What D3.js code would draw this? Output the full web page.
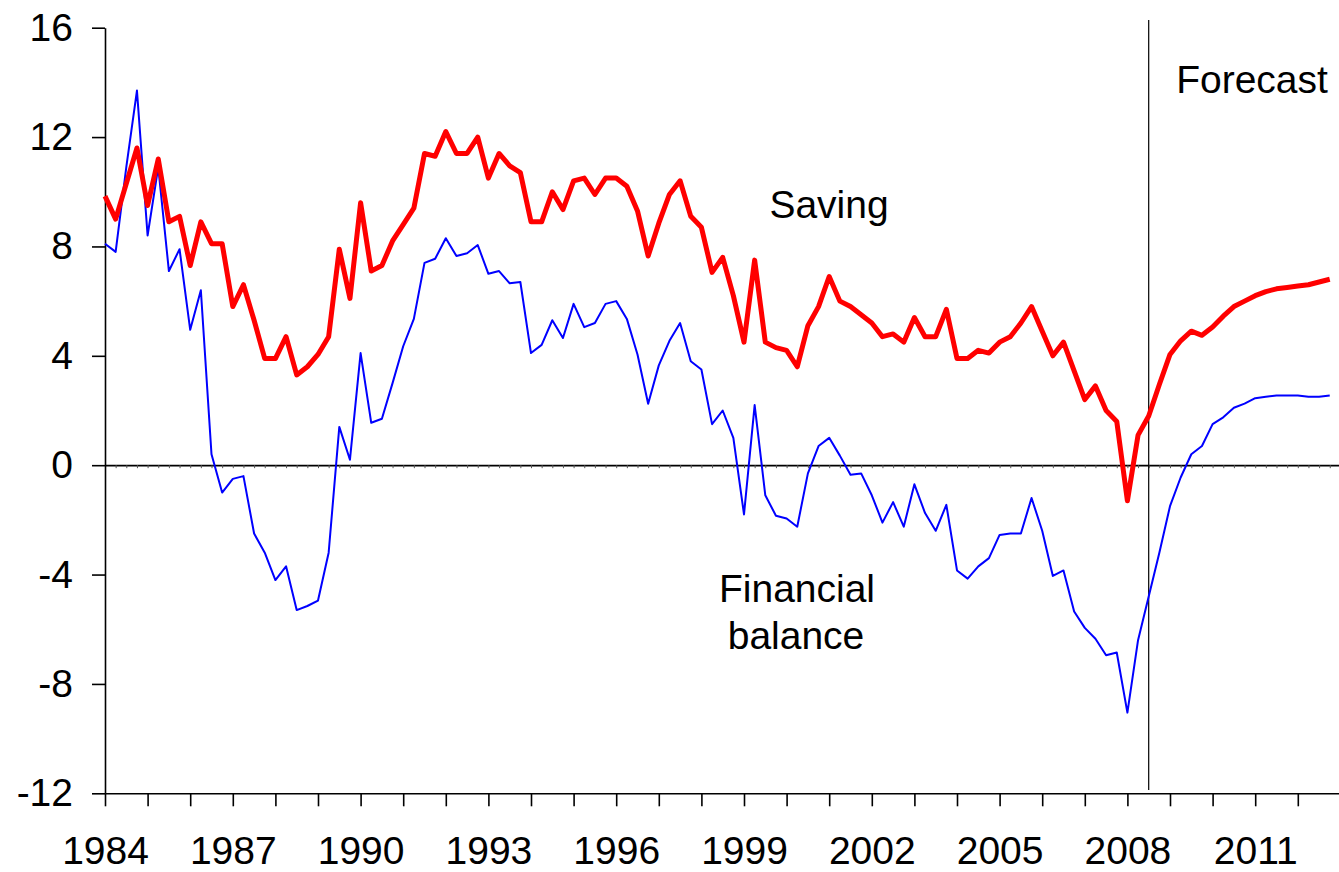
<!DOCTYPE html>
<html>
<head>
<meta charset="utf-8">
<script src="https://cdn.jsdelivr.net/npm/d3@7"></script>
<style>
  html, body { margin: 0; padding: 0; background: white; }
  svg { display: block; font-family: "Liberation Sans", Arial, sans-serif; }
</style>
</head>
<body>
<div id="svg_area"></div>
<script>
// Quarterly data, 1984Q1 .. 2012Q4
const startYear = 1984;

const saving = [
  9.84, 9.0, 10.3, 11.6, 9.5, 11.2, 8.9, 9.1, 7.3, 8.9, 8.1, 8.1,
  5.8, 6.6, 5.3, 3.9, 3.9, 4.7, 3.3, 3.6, 4.05, 4.7, 7.9, 6.1,
  9.6, 7.1, 7.3, 8.2, 8.8, 9.4, 11.4, 11.3, 12.2, 11.4, 11.4, 12.0,
  10.5, 11.4, 10.95, 10.7, 8.9, 8.9, 10.0, 9.35, 10.4, 10.5, 9.9, 10.5,
  10.5, 10.2, 9.3, 7.65, 8.85, 9.9, 10.4, 9.1, 8.7, 7.05, 7.6, 6.2,
  4.5, 7.5, 4.5, 4.3, 4.2, 3.6, 5.1, 5.8, 6.9, 6.0, 5.8, 5.5,
  5.2, 4.7, 4.8, 4.5, 5.4, 4.7, 4.7, 5.7, 3.9, 3.9, 4.2, 4.1,
  4.5, 4.7, 5.2, 5.8, 4.9, 4.0, 4.5, 3.45, 2.4, 2.9, 2.0, 1.6,
  -1.3, 1.1, 1.8, 2.95, 4.05, 4.55, 4.9, 4.75, 5.05, 5.45, 5.8, 6.0,
  6.2, 6.35, 6.45, 6.5, 6.55, 6.6, 6.7, 6.8
];

const balance = [
  8.1, 7.8, 10.9, 13.7, 8.4, 10.9, 7.1, 7.9, 4.95, 6.4, 0.4, -1.0,
  -0.5, -0.4, -2.5, -3.2, -4.2, -3.7, -5.3, -5.15, -4.95, -3.2, 1.4, 0.2,
  4.1, 1.55, 1.7, 3.0, 4.35, 5.35, 7.4, 7.55, 8.3, 7.65, 7.75, 8.05,
  7.0, 7.1, 6.65, 6.7, 4.1, 4.4, 5.3, 4.65, 5.9, 5.05, 5.2, 5.9,
  6.0, 5.35, 4.05, 2.25, 3.65, 4.55, 5.2, 3.8, 3.5, 1.5, 2.0, 1.0,
  -1.8, 2.2, -1.1, -1.85, -1.95, -2.25, -0.3, 0.7, 1.0, 0.35, -0.35, -0.3,
  -1.1, -2.1, -1.35, -2.25, -0.7, -1.75, -2.4, -1.45, -3.85, -4.15, -3.7, -3.4,
  -2.55, -2.5, -2.5, -1.2, -2.4, -4.05, -3.85, -5.35, -5.95, -6.35, -6.95, -6.85,
  -9.05, -6.4, -4.8, -3.2, -1.5, -0.45, 0.4, 0.7, 1.5, 1.75, 2.1, 2.25,
  2.45, 2.5, 2.55, 2.55, 2.55, 2.5, 2.5, 2.55
];

const quarters = saving.map((d, i) => startYear + i / 4);
const yTicks = [-12, -8, -4, 0, 4, 8, 12, 16];
const xTicks = d3.range(1984, 2013);
const xLabelYears = [1984, 1987, 1990, 1993, 1996, 1999, 2002, 2005, 2008, 2011];
const forecastStart = 2008.5;

const W = 1339, H = 872;
const fontSize = 39;

const x = d3.scaleLinear().domain([1984, 2013]).range([105, 1340.4]);
const y = d3.scaleLinear().domain([-12, 16]).range([793.3, 27.7]);

const svg = d3.select("#svg_area")
  .append("svg")
  .attr("width", W)
  .attr("height", H);

svg.append("rect")
  .attr("width", W)
  .attr("height", H)
  .style("fill", "white");

// zero line with small quarterly ticks
const zeroAxis = d3.axisBottom(x)
  .tickValues(quarters)
  .tickSize(3)
  .tickSizeOuter(0)
  .tickFormat("");
const zg = svg.append("g")
  .attr("transform", `translate(0,${y(0)})`)
  .call(zeroAxis);
zg.select(".domain").attr("stroke", "#000").attr("stroke-width", 1.8);
zg.selectAll(".tick line").attr("stroke", "#555").attr("stroke-width", 1);

// y axis (plain hyphen for negatives, as in the original)
const yAxis = d3.axisLeft(y)
  .tickValues(yTicks)
  .tickSize(13)
  .tickSizeOuter(0)
  .tickPadding(19)
  .tickFormat(d => String(d));
const yg = svg.append("g")
  .attr("transform", `translate(${x(1984)},0)`)
  .call(yAxis);

// x axis
const xAxis = d3.axisBottom(x)
  .tickValues(xTicks)
  .tickSize(13)
  .tickSizeOuter(0)
  .tickPadding(30)
  .tickFormat(d => xLabelYears.includes(d) ? String(d) : "");
const xg = svg.append("g")
  .attr("transform", `translate(0,${y(-12)})`)
  .call(xAxis);

[yg, xg].forEach(g => {
  g.select(".domain").attr("stroke", "#000").attr("stroke-width", 1.6);
  g.selectAll(".tick line").attr("stroke", "#000").attr("stroke-width", 1.6);
  g.selectAll("text")
    .attr("fill", "#000")
    .style("font-size", fontSize + "px")
    .style("font-family", '"Liberation Sans", Arial, sans-serif');
});

// forecast divider
svg.append("line")
  .attr("x1", x(forecastStart)).attr("x2", x(forecastStart))
  .attr("y1", y(16.28)).attr("y2", y(-11.88))
  .attr("stroke", "#000")
  .attr("stroke-width", 1.2);

const line = d3.line()
  .x((d, i) => x(quarters[i]))
  .y(d => y(d));

svg.append("path")
  .datum(balance)
  .attr("d", line)
  .attr("fill", "none")
  .attr("stroke", "#0000FF")
  .attr("stroke-width", 2)
  .attr("stroke-linejoin", "round");

svg.append("path")
  .datum(saving)
  .attr("d", line)
  .attr("fill", "none")
  .attr("stroke", "#FF0000")
  .attr("stroke-width", 5)
  .attr("stroke-linejoin", "round");

// labels
const labels = [
  {text: "Saving", x: 829, y: 218},
  {text: "Financial", x: 797, y: 601.5},
  {text: "balance", x: 796, y: 649},
  {text: "Forecast", x: 1252, y: 93}
];
svg.selectAll(".lbl")
  .data(labels)
  .enter().append("text")
  .attr("class", "lbl")
  .attr("x", d => d.x)
  .attr("y", d => d.y)
  .attr("text-anchor", "middle")
  .style("font-size", fontSize + "px")
  .style("fill", "#000")
  .text(d => d.text);
</script>
</body>
</html>
